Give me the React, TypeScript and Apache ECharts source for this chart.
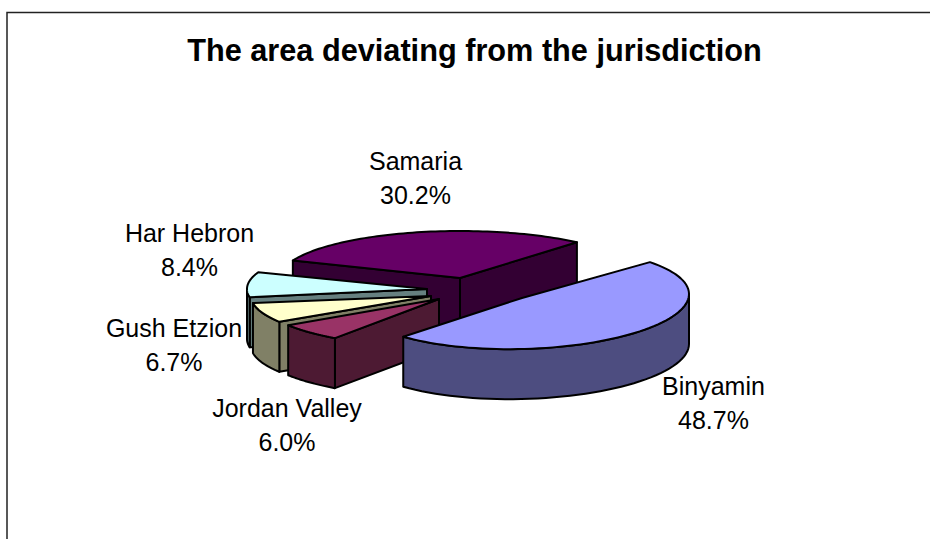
import React, { useEffect, useRef } from "react";
import * as echarts from "echarts";

// Shares of the deviating area, clockwise from the back-right of the pie.
const categories = ["Binyamin", "Jordan Valley", "Gush Etzion", "Har Hebron", "Samaria"];
const shares = [48.7, 6.0, 6.7, 8.4, 30.2];
const chartTitle = "The area deviating from the jurisdiction";

const FONT = '"Liberation Sans", Arial, sans-serif';
const START_ANGLE = -51;
const DEPTH = 50;

// Colours of each slice: top face, then side walls.
const topColors = ["#9999FF", "#993366", "#FFFFCC", "#CCFFFF", "#660066"];
const sideColors = ["#4D4D80", "#4D1A33", "#808066", "#668080", "#330033"];

// Exploded position and projection of each slice; order paints back to front.
const sliceViews = [
  { cx: 522, cy: 298, rx: 167, ry: 51, skew: -4, shift: 11, order: 4 },
  { cx: 439, cy: 299, rx: 180, ry: 48, skew: 0, shift: 1, order: 3 },
  { cx: 431, cy: 296, rx: 180, ry: 48, skew: 0, shift: 1.5, order: 2 },
  { cx: 427, cy: 289, rx: 180, ry: 48, skew: 0, shift: 0, order: 1 },
  { cx: 460, cy: 278, rx: 180, ry: 47, skew: 0, shift: 1.5, order: 0 },
];

// Centre of each two-line data label.
const labelCenters = [
  [713.5, 403],
  [287, 425],
  [174, 344.5],
  [189.5, 250],
  [415.5, 177.5],
];

const total = shares.reduce((a, b) => a + b, 0);
const RAD = Math.PI / 180;

function sliceAngles(index: number) {
  const before = shares.slice(0, index).reduce((a, b) => a + b, 0);
  const shift = sliceViews[index].shift;
  return {
    start: START_ANGLE + (before / total) * 360 + shift,
    end: START_ANGLE + ((before + shares[index]) / total) * 360 + shift,
  };
}

function renderSlice(params: any, api: any) {
  const i = params.dataIndex;
  const value = api.value(0);
  const v = sliceViews[i];
  const { start } = sliceAngles(i);
  const end = start + (value / total) * 360;
  const project = (deg: number, drop = 0): number[] => [
    v.cx + v.rx * Math.cos(deg * RAD),
    v.cy + v.ry * Math.sin(deg * RAD) + v.skew * Math.cos(deg * RAD) + drop,
  ];
  const apex = [v.cx, v.cy];
  const base = v.order * 10;
  const wall = (points: number[][], z: number) => ({
    type: "polygon",
    z2: base + z,
    shape: { points },
    style: { fill: sideColors[i], stroke: "#000", lineWidth: 2, lineJoin: "round" },
  });
  const children: any[] = [];

  // Flat walls along the cuts, only where they face the viewer.
  if (Math.cos(start * RAD) < 0) {
    const p = project(start);
    children.push(wall([apex, p, [p[0], p[1] + DEPTH], [apex[0], apex[1] + DEPTH]], 1));
  }
  if (Math.cos(end * RAD) > 0) {
    const p = project(end);
    children.push(wall([apex, p, [p[0], p[1] + DEPTH], [apex[0], apex[1] + DEPTH]], 1));
  }

  // Curved outer wall: the part of the rim on the near half of the ellipse.
  const from = Math.max(start, 0);
  const to = Math.min(end, 180);
  if (to > from) {
    const upper: number[][] = [];
    const lower: number[][] = [];
    for (let d = from; d <= to + 0.001; d += (to - from) / 48) {
      upper.push(project(d));
      lower.unshift(project(d, DEPTH));
    }
    children.push(wall(upper.concat(lower), 2));
  }

  // Top face.
  const rim: number[][] = [apex];
  for (let k = 0; k <= 72; k++) rim.push(project(start + ((end - start) * k) / 72));
  children.push({
    type: "polygon",
    z2: base + 3,
    shape: { points: rim },
    style: { fill: topColors[i], stroke: "#000", lineWidth: 2, lineJoin: "round" },
  });

  // Two-line label: name and share.
  const [lx, ly] = labelCenters[i];
  children.push({
    type: "text",
    z2: 100,
    style: {
      text: `${categories[i]}\n${value.toFixed(1)}%`,
      x: lx,
      y: ly,
      align: "center",
      verticalAlign: "middle",
      fill: "#000",
      font: `25px ${FONT}`,
      lineHeight: 34,
    },
  });
  return { type: "group", children };
}

export default function App() {
  const ref = useRef<HTMLDivElement>(null);
  useEffect(() => {
    document.body.style.margin = "0";
    const chart = echarts.init(ref.current!, undefined, { renderer: "svg" });
    chart.setOption({
      animation: false,
      backgroundColor: "#fff",
      title: {
        text: chartTitle,
        left: 469.5,
        top: 30,
        textAlign: "center",
        textStyle: { fontFamily: FONT, fontWeight: "bold", fontSize: 30.7, color: "#000" },
      },
      graphic: [
        {
          type: "rect",
          silent: true,
          shape: { x: 7, y: 12.5, width: 1000, height: 1000 },
          style: { fill: "none", stroke: "#222", lineWidth: 1.5 },
        },
      ],
      series: [
        {
          type: "custom",
          coordinateSystem: "none",
          clip: false,
          renderItem: renderSlice,
          data: shares.map((s, i) => ({ name: categories[i], value: [s] })),
        },
      ],
    });
    return () => chart.dispose();
  }, []);
  return <div ref={ref} style={{ position: "fixed", left: 0, top: 0, width: 930, height: 539 }} />;
}
